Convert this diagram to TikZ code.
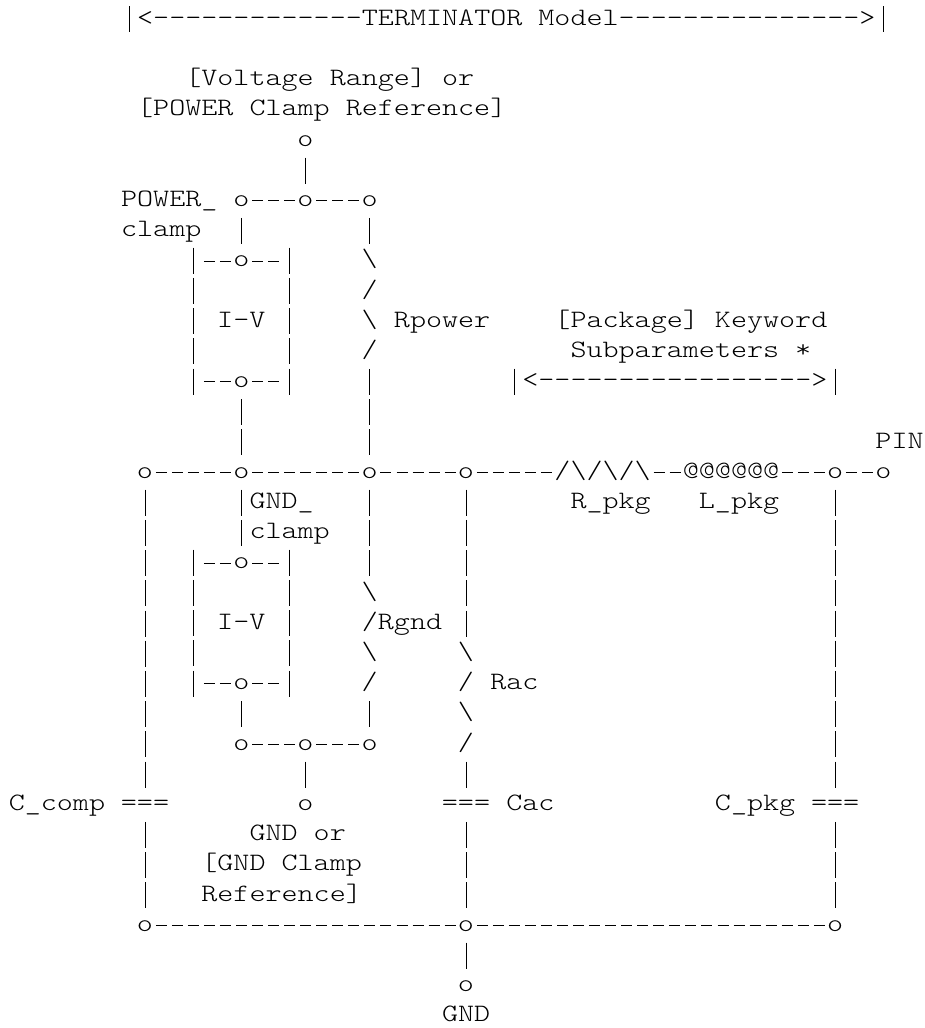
\documentclass[tikz,border=0pt]{standalone}
\usepackage{fontspec}
\newfontfamily\asciifont[FakeStretch=1.223]{Latin Modern Mono Light}
\begin{document}
\begin{tikzpicture}[x=16.05pt, y=-30.2pt]
\tikzset{glyphe/.style={font=\fontsize{25}{30}\asciifont, inner sep=0pt, text height=21.1pt, text depth=9.1pt, minimum width=16.05pt}}
\tikzset{txt/.style={glyphe, anchor=west}}
\tikzset{hfil/.style={line width=.8pt, dash pattern=on 11pt off 5.05pt, dash phase=13.5pt}}
\tikzset{vfil/.style={line width=.8pt, dash pattern=on 26pt off 4.2pt, dash phase=28.1pt}}
\useasboundingbox (-16.6pt, 19.3pt) rectangle (908.4pt, -1008.7pt);
\node[glyphe] (TitleL) at (7, 0) {};
\node[txt] (Title) at (7.5, 0) {<-------------TERMINATOR Model--------------->};
\node[glyphe] (TitleR) at (54, 0) {};
\node[txt] (VRange) at (10.5, 2) {[Voltage Range] or};
\node[txt] (PRef) at (7.5, 3) {[POWER Clamp Reference]};
\node[glyphe] (VR) at (18, 4) {o};
\node[txt] (PClampA) at (6.5, 6) {POWER\_};
\node[txt] (PClampB) at (6.5, 7) {clamp};
\node[glyphe] (PL) at (14, 6) {o};
\node[glyphe] (PM) at (18, 6) {o};
\node[glyphe] (PR) at (22, 6) {o};
\node[glyphe] (CA) at (11, 8) {};
\node[glyphe] (CB) at (14, 8) {o};
\node[glyphe] (CC) at (17, 8) {};
\node[glyphe] (CD) at (11, 12) {};
\node[glyphe] (CE) at (14, 12) {o};
\node[glyphe] (CF) at (17, 12) {};
\node[glyphe] (PIV) at (14, 10) {I-V};
\node[glyphe] (R1) at (22, 8) {\textbackslash};
\node[glyphe] (R2) at (22, 9) {/};
\node[glyphe] (R3) at (22, 10) {\textbackslash};
\node[glyphe] (R4) at (22, 11) {/};
\node[txt] (Rpower) at (23.5, 10) {Rpower};
\node[txt] (PkgA) at (33.5, 10) {[Package] Keyword};
\node[txt] (PkgB) at (34.5, 11) {Subparameters *};
\node[glyphe] (PkgL) at (31, 12) {};
\node[txt] (PkgC) at (31.5, 12) {<----------------->};
\node[glyphe] (PkgR) at (51, 12) {};
\node[txt] (Pin) at (53.5, 14) {PIN};
\node[glyphe] (N1) at (8, 15) {o};
\node[glyphe] (N2) at (14, 15) {o};
\node[glyphe] (N3) at (22, 15) {o};
\node[glyphe] (N4) at (28, 15) {o};
\node[txt] (Rp) at (33.5, 15) {/\textbackslash/\textbackslash/\textbackslash};
\node[txt] (Lp) at (41.5, 15) {@@@@@@};
\node[glyphe] (N5) at (51, 15) {o};
\node[glyphe] (N6) at (54, 15) {o};
\node[txt] (GClampA) at (14.5, 16) {GND\_};
\node[txt] (GClampB) at (14.5, 17) {clamp};
\node[txt] (Rpkg) at (34.5, 16) {R\_pkg};
\node[txt] (Lpkg) at (42.5, 16) {L\_pkg};
\node[glyphe] (GA) at (11, 18) {};
\node[glyphe] (GB) at (14, 18) {o};
\node[glyphe] (GC) at (17, 18) {};
\node[glyphe] (GD) at (11, 22) {};
\node[glyphe] (GE) at (14, 22) {o};
\node[glyphe] (GF) at (17, 22) {};
\node[glyphe] (GIV) at (14, 20) {I-V};
\node[glyphe] (S1) at (22, 19) {\textbackslash};
\node[txt] (S2) at (21.5, 20) {/Rgnd};
\node[glyphe] (S3) at (22, 21) {\textbackslash};
\node[glyphe] (S4) at (22, 22) {/};
\node[glyphe] (A1) at (28, 21) {\textbackslash};
\node[glyphe] (A2) at (28, 22) {/};
\node[glyphe] (A3) at (28, 23) {\textbackslash};
\node[glyphe] (A4) at (28, 24) {/};
\node[txt] (Rac) at (29.5, 22) {Rac};
\node[glyphe] (QL) at (14, 24) {o};
\node[glyphe] (QM) at (18, 24) {o};
\node[glyphe] (QR) at (22, 24) {o};
\node[glyphe] (QV) at (18, 26) {o};
\node[txt] (Ccomp) at (-0.5, 26) {C\_comp};
\node[glyphe] (C1) at (8, 26) {===};
\node[glyphe] (C2) at (28, 26) {===};
\node[txt] (Cac) at (30.5, 26) {Cac};
\node[txt] (Cpkg) at (43.5, 26) {C\_pkg};
\node[glyphe] (C3) at (51, 26) {===};
\node[txt] (GRefA) at (14.5, 27) {GND or};
\node[txt] (GRefB) at (11.5, 28) {[GND Clamp};
\node[txt] (GRefC) at (11.5, 29) {Reference]};
\node[glyphe] (B1) at (8, 30) {o};
\node[glyphe] (B2) at (28, 30) {o};
\node[glyphe] (B3) at (51, 30) {o};
\node[glyphe] (B4) at (28, 32) {o};
\node[txt] (Gnd) at (26.5, 33) {GND};
\draw[vfil] (TitleL.north) -- (TitleL.south);
\draw[vfil] (TitleR.north) -- (TitleR.south);
\draw[vfil] (PkgL.north) -- (PkgL.south);
\draw[vfil] (PkgR.north) -- (PkgR.south);
\draw[vfil] (VR) -- (PM);
\draw[hfil] (PL) -- (PM);
\draw[hfil] (PM) -- (PR);
\draw[vfil] (PL) -- (CB);
\draw[hfil] (CA) -- (CB);
\draw[hfil] (CB) -- (CC);
\draw[hfil] (CD) -- (CE);
\draw[hfil] (CE) -- (CF);
\draw[vfil] (CA.north) -- (CD.south);
\draw[vfil] (CC.north) -- (CF.south);
\draw[vfil] (CE) -- (N2);
\draw[vfil] (PR) -- (R1);
\draw[vfil] (R4) -- (N3);
\draw[hfil] (N1) -- (N2);
\draw[hfil] (N2) -- (N3);
\draw[hfil] (N3) -- (N4);
\draw[hfil] (N4) -- (Rp);
\draw[hfil] (Rp) -- (Lp);
\draw[hfil] (Lp) -- (N5);
\draw[hfil] (N5) -- (N6);
\draw[vfil] (N2) -- (GB);
\draw[hfil] (GA) -- (GB);
\draw[hfil] (GB) -- (GC);
\draw[hfil] (GD) -- (GE);
\draw[hfil] (GE) -- (GF);
\draw[vfil] (GA.north) -- (GD.south);
\draw[vfil] (GC.north) -- (GF.south);
\draw[vfil] (GE) -- (QL);
\draw[vfil] (N3) -- (S1);
\draw[vfil] (S4) -- (QR);
\draw[hfil] (QL) -- (QM);
\draw[hfil] (QM) -- (QR);
\draw[vfil] (QM) -- (QV);
\draw[vfil] (N4) -- (A1);
\draw[vfil] (A4) -- (C2);
\draw[vfil] (C2) -- (B2);
\draw[vfil] (B2) -- (B4);
\draw[vfil] (N1) -- (C1);
\draw[vfil] (C1) -- (B1);
\draw[vfil] (N5) -- (C3);
\draw[vfil] (C3) -- (B3);
\draw[hfil] (B1) -- (B2);
\draw[hfil] (B2) -- (B3);
\end{tikzpicture}
\end{document}
